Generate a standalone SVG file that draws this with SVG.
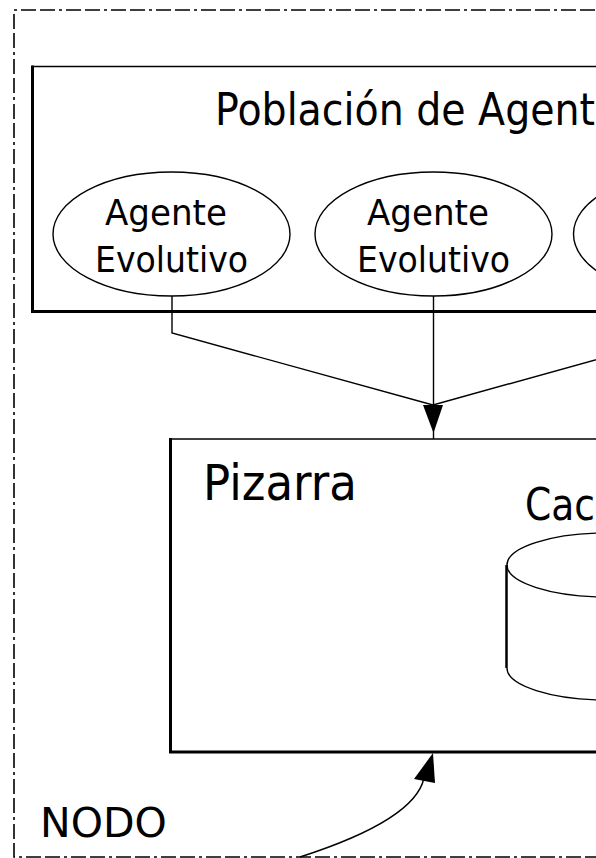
<svg xmlns="http://www.w3.org/2000/svg" width="596" height="858" viewBox="0 0 596 858">
<style>
text { font-family: "DejaVu Sans", "Liberation Sans", sans-serif; fill: #000; }
.thin { fill: none; stroke: #000; stroke-width: 1.4; }
.thick { fill: none; stroke: #000; stroke-width: 3; }
.border { fill: none; stroke: #000; stroke-width: 1.6; stroke-dasharray: 15 4 15 4 3 4; }
.agent { fill: none; stroke: #000; stroke-width: 1.4; }
.lbl { font-size: 35px; text-anchor: middle; }
</style>
<rect width="596" height="858" fill="#fff"/>
<g id="nodo">
  <path class="border" d="M640,10 H14 V857 H640"/>
  <text x="40" y="837" font-size="41">NODO</text>
</g>
<g id="poblacion">
  <path class="thin" d="M32,66.5 H640"/>
  <path class="thick" d="M32.5,65.5 V311.5 H640"/>
  <text x="215" y="125" font-size="45" textLength="380" lengthAdjust="spacingAndGlyphs">Población de Agent</text>
</g>
<g id="agente1">
  <ellipse class="agent" cx="171.5" cy="234" rx="118.5" ry="62"/>
  <text class="lbl" x="166" y="225" textLength="122" lengthAdjust="spacingAndGlyphs">Agente</text>
  <text class="lbl" x="171.5" y="272" textLength="153" lengthAdjust="spacingAndGlyphs">Evolutivo</text>
</g>
<g id="agente2">
  <ellipse class="agent" cx="433.5" cy="234" rx="118.5" ry="62"/>
  <text class="lbl" x="428" y="225" textLength="122" lengthAdjust="spacingAndGlyphs">Agente</text>
  <text class="lbl" x="433.5" y="272" textLength="153" lengthAdjust="spacingAndGlyphs">Evolutivo</text>
</g>
<g id="agente3">
  <ellipse class="agent" cx="692" cy="234" rx="118.5" ry="62"/>
</g>
<g id="pizarra">
  <path class="thin" d="M170,439 H640"/>
  <path class="thick" d="M170.5,438 V752 H640"/>
  <text x="203" y="500" font-size="50" textLength="154" lengthAdjust="spacingAndGlyphs">Pizarra</text>
</g>
<g id="cache">
  <text x="525" y="520" font-size="44" textLength="70" lengthAdjust="spacingAndGlyphs">Cac</text>
  <ellipse class="thin" cx="607" cy="565" rx="100" ry="32"/>
  <path class="thick" d="M506.5,565 V668" style="stroke-width:2.5"/>
  <path class="thin" d="M507,668 A100,32 0 0 0 707,668"/>
</g>
<g id="connectors">
  <path class="thin" d="M172,296 V333 L433,405"/>
  <path class="thin" d="M692,296 V333 L433,405"/>
  <path class="thin" d="M433.5,296 V439"/>
  <polygon points="423,405 443,405 433.5,433" fill="#000"/>
  <path class="thin" d="M300,857 Q415,820 424,778"/>
  <polygon points="433,753 435,783 414,779" fill="#000"/>
</g>
</svg>
